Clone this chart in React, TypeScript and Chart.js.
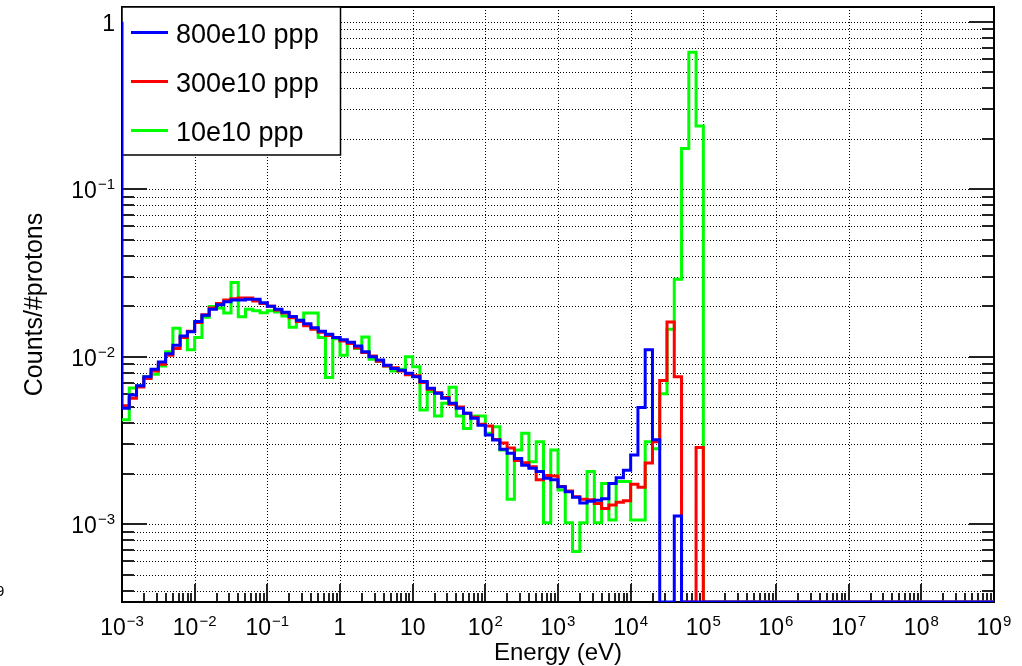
import React, { useEffect, useRef } from "react";
import { Chart, registerables } from "chart.js";

Chart.register(...registerables);

// ---- axis ranges / binning ----
const X_MIN = 1e-3;
const X_MAX = 1e9;
const Y_MIN = 3.43e-4;
const Y_MAX = 1.224;
const FIRST_EDGE_EXP = -3; // first bin edge = 10^-3
const BINS_PER_DECADE = 10;
const N_BINS = 120;

// ---- tick labels ----
const xTickValues = [1e-3, 1e-2, 1e-1, 1, 10, 1e2, 1e3, 1e4, 1e5, 1e6, 1e7, 1e8, 1e9];
const xTickBase = ["10", "10", "10", "1", "10", "10", "10", "10", "10", "10", "10", "10", "10"];
const xTickSup = ["\u22123", "\u22122", "\u22121", "", "", "2", "3", "4", "5", "6", "7", "8", "9"];
const yTickValues = [1e-3, 1e-2, 1e-1, 1];
const yTickBase = ["10", "10", "10", "1"];
const yTickSup = ["\u22123", "\u22122", "\u22121", ""];

const xTitle = "Energy (eV)";
const yTitle = "Counts/#protons";
const strayLabel = "9"; // clipped fragment at the left edge of the picture

// ---- series ----
const seriesLabels = ["800e10 ppp", "300e10 ppp", "10e10 ppp"];
const seriesColors = ["#0000ff", "#ff0000", "#00ff00"];

// bin contents, bins 0..79 (remaining bins up to 10^9 are empty)
const blueUnderflow = 1.0;
const blueValues = [
  4.92e-3, 5.9e-3, 6.7e-3, 7.6e-3, 8.4e-3, 9.3e-3, 1.04e-2, 1.17e-2, 1.33e-2, 1.41e-2,
  1.62e-2, 1.77e-2, 1.92e-2, 2.04e-2, 2.13e-2, 2.18e-2, 2.18e-2, 2.2e-2, 2.2e-2, 2.1e-2,
  2.0e-2, 1.92e-2, 1.84e-2, 1.74e-2, 1.65e-2, 1.57e-2, 1.49e-2, 1.42e-2, 1.36e-2, 1.3e-2,
  1.26e-2, 1.22e-2, 1.16e-2, 1.07e-2, 1.0e-2, 9.55e-3, 8.9e-3, 8.5e-3, 8.3e-3, 7.96e-3,
  7.6e-3, 7.1e-3, 6.47e-3, 6.04e-3, 5.64e-3, 5.27e-3, 4.92e-3, 4.59e-3, 4.29e-3, 3.9e-3,
  3.41e-3, 3.18e-3, 2.8e-3, 2.65e-3, 2.47e-3, 2.25e-3, 2.16e-3, 2.06e-3, 1.88e-3, 1.84e-3,
  1.67e-3, 1.56e-3, 1.45e-3, 1.34e-3, 1.37e-3, 1.39e-3, 1.42e-3, 1.75e-3, 1.89e-3, 2.1e-3,
  2.59e-3, 4.98e-3, 1.1e-2, 3.19e-3, 0, 0, 1.12e-3, 0, 0, 0,
];
const redValues = [
  5.1e-3, 5.65e-3, 6.6e-3, 7.4e-3, 8.2e-3, 9.0e-3, 1.02e-2, 1.12e-2, 1.3e-2, 1.42e-2,
  1.6e-2, 1.78e-2, 1.95e-2, 2.08e-2, 2.18e-2, 2.22e-2, 2.24e-2, 2.24e-2, 2.15e-2, 2.08e-2,
  2.0e-2, 1.9e-2, 1.82e-2, 1.71e-2, 1.62e-2, 1.53e-2, 1.46e-2, 1.4e-2, 1.34e-2, 1.3e-2,
  1.24e-2, 1.2e-2, 1.13e-2, 1.06e-2, 1.01e-2, 9.4e-3, 8.8e-3, 8.6e-3, 8.2e-3, 7.8e-3,
  7.7e-3, 7.0e-3, 6.4e-3, 6.1e-3, 5.7e-3, 5.2e-3, 5.0e-3, 4.6e-3, 4.35e-3, 3.95e-3,
  3.85e-3, 3.2e-3, 3.05e-3, 2.85e-3, 2.4e-3, 2.33e-3, 2.2e-3, 1.84e-3, 1.95e-3, 1.94e-3,
  1.68e-3, 1.58e-3, 1.46e-3, 1.41e-3, 1.4e-3, 1.33e-3, 1.24e-3, 1.3e-3, 1.35e-3, 1.38e-3,
  1.73e-3, 1.66e-3, 2.32e-3, 3.11e-3, 7.2e-3, 1.61e-2, 7.6e-3, 0, 0, 2.87e-3,
];
const greenValues = [
  4.2e-3, 6.5e-3, 6.7e-3, 7.6e-3, 7.85e-3, 8.8e-3, 1.07e-2, 1.48e-2, 1.3e-2, 1.1e-2,
  1.3e-2, 1.72e-2, 1.99e-2, 1.95e-2, 1.82e-2, 2.77e-2, 1.73e-2, 1.92e-2, 1.88e-2, 1.83e-2,
  1.88e-2, 1.85e-2, 1.75e-2, 1.5e-2, 1.65e-2, 1.82e-2, 1.82e-2, 1.3e-2, 7.5e-3, 1.28e-2,
  1.02e-2, 1.2e-2, 1.12e-2, 1.31e-2, 9.65e-3, 9.4e-3, 8.8e-3, 8.2e-3, 8.4e-3, 1.0e-2,
  8.7e-3, 4.8e-3, 6.2e-3, 4.43e-3, 5.27e-3, 6.56e-3, 4.43e-3, 3.73e-3, 4.43e-3, 4.43e-3,
  3.49e-3, 3.82e-3, 2.77e-3, 1.41e-3, 2.77e-3, 3.49e-3, 2.36e-3, 3.11e-3, 1.02e-3, 2.77e-3,
  1.6e-3, 1.02e-3, 6.86e-4, 1.02e-3, 2.06e-3, 1.02e-3, 1.75e-3, 1.06e-3, 1.8e-3, 1.8e-3,
  1.06e-3, 1.06e-3, 3.11e-3, 2.82e-3, 6.0e-3, 1.46e-2, 2.9e-2, 1.75e-1, 0.656, 0.238,
];

const FONT = "'Liberation Sans', Arial, Helvetica, sans-serif";

function binEdge(k: number) {
  return Math.pow(10, FIRST_EDGE_EXP + k / BINS_PER_DECADE);
}

function stepPoints(values: number[], leading?: number) {
  const pts: { x: number; y: number }[] = [];
  if (leading !== undefined) pts.push({ x: binEdge(0), y: leading });
  for (let k = 0; k < N_BINS; k++) {
    const v = values[k] ?? 0;
    const y = v > 0 ? v : Y_MIN;
    pts.push({ x: binEdge(k), y });
    pts.push({ x: binEdge(k + 1), y });
  }
  return pts;
}

function drawPow(
  ctx: CanvasRenderingContext2D,
  base: string,
  sup: string,
  x: number,
  baseline: number,
  align: "center" | "right",
  baseSize: number,
  supSize: number,
  supRaise: number
) {
  ctx.textAlign = "left";
  ctx.textBaseline = "alphabetic";
  ctx.font = `${baseSize}px ${FONT}`;
  const wb = ctx.measureText(base).width;
  ctx.font = `${supSize}px ${FONT}`;
  const ws = sup ? ctx.measureText(sup).width + 1 : 0;
  const total = wb + ws;
  const left = align === "center" ? x - total / 2 : x - total;
  ctx.font = `${baseSize}px ${FONT}`;
  ctx.fillText(base, left, baseline);
  if (sup) {
    ctx.font = `${supSize}px ${FONT}`;
    ctx.fillText(sup, left + wb + 1, baseline - supRaise);
  }
}

const rootPlugin = {
  id: "rootFrame",
  beforeDatasetsDraw(chart: any) {
    const ctx: CanvasRenderingContext2D = chart.ctx;
    const { left, right, top, bottom } = chart.chartArea;
    const xs = chart.scales.x;
    const ys = chart.scales.y;
    ctx.save();
    // grid
    ctx.strokeStyle = "#000";
    ctx.lineWidth = 1;
    ctx.setLineDash([1, 2]);
    for (let e = -4; e <= 0; e++) {
      for (let m = 1; m <= 9; m++) {
        const v = m * Math.pow(10, e);
        if (v <= Y_MIN || v >= Y_MAX) continue;
        const py = Math.round(ys.getPixelForValue(v)) + 0.5;
        ctx.beginPath();
        ctx.moveTo(left, py);
        ctx.lineTo(right, py);
        ctx.stroke();
      }
    }
    for (const v of xTickValues) {
      if (v <= X_MIN || v >= X_MAX) continue;
      const px = Math.round(xs.getPixelForValue(v)) + 0.5;
      ctx.beginPath();
      ctx.moveTo(px, top);
      ctx.lineTo(px, bottom);
      ctx.stroke();
    }
    ctx.setLineDash([]);
    // ticks (left/right on y, bottom on x)
    ctx.strokeStyle = "#222";
    ctx.lineWidth = 2;
    for (let e = -4; e <= 0; e++) {
      for (let m = 1; m <= 9; m++) {
        const v = m * Math.pow(10, e);
        if (v < Y_MIN || v > Y_MAX) continue;
        const py = Math.round(ys.getPixelForValue(v));
        const len = m === 1 ? 25 : 12;
        ctx.beginPath();
        ctx.moveTo(left, py);
        ctx.lineTo(left + len, py);
        ctx.moveTo(right, py);
        ctx.lineTo(right - len, py);
        ctx.stroke();
      }
    }
    for (let e = -3; e <= 8; e++) {
      for (let m = 1; m <= 9; m++) {
        const v = m * Math.pow(10, e);
        if (v < X_MIN || v > X_MAX) continue;
        const px = Math.round(xs.getPixelForValue(v));
        const len = m === 1 ? 18 : 9;
        ctx.beginPath();
        ctx.moveTo(px, bottom);
        ctx.lineTo(px, bottom - len);
        ctx.stroke();
      }
    }
    // frame
    ctx.strokeStyle = "#000";
    ctx.lineWidth = 2;
    ctx.strokeRect(left, top, right - left, bottom - top);

    // legend box
    const lx0 = left, ly0 = top, lx1 = 340.5, ly1 = 155;
    ctx.fillStyle = "#fff";
    ctx.fillRect(lx0, ly0, lx1 - lx0, ly1 - ly0);
    ctx.lineWidth = 1.5;
    ctx.strokeStyle = "#000";
    ctx.strokeRect(lx0, ly0, lx1 - lx0, ly1 - ly0);
    const rowY = [32.5, 81.5, 130.5];
    ctx.font = `27px ${FONT}`;
    ctx.textAlign = "left";
    ctx.textBaseline = "alphabetic";
    for (let i = 0; i < seriesLabels.length; i++) {
      ctx.strokeStyle = seriesColors[i];
      ctx.lineWidth = 3;
      ctx.beginPath();
      ctx.moveTo(131, rowY[i]);
      ctx.lineTo(168, rowY[i]);
      ctx.stroke();
      ctx.fillStyle = "#000";
      ctx.fillText(seriesLabels[i], 176, rowY[i] + 10);
    }
    ctx.restore();
  },
  afterDraw(chart: any) {
    const ctx: CanvasRenderingContext2D = chart.ctx;
    const xs = chart.scales.x;
    const ys = chart.scales.y;
    const { left, right, top, bottom } = chart.chartArea;
    ctx.save();
    ctx.fillStyle = "#000";
    for (let i = 0; i < xTickValues.length; i++) {
      const px = xs.getPixelForValue(xTickValues[i]);
      drawPow(ctx, xTickBase[i], xTickSup[i], px, 635, "center", 23, 15, 9);
    }
    for (let i = 0; i < yTickValues.length; i++) {
      const py = ys.getPixelForValue(yTickValues[i]);
      drawPow(ctx, yTickBase[i], yTickSup[i], 115, py + 9, "right", 23, 15, 9);
    }
    // clipped fragment at the far left
    ctx.font = `15px ${FONT}`;
    ctx.textAlign = "left";
    ctx.fillText(strayLabel, -4, 596);
    // axis titles
    ctx.font = `24px ${FONT}`;
    ctx.textAlign = "center";
    ctx.textBaseline = "alphabetic";
    ctx.fillText(xTitle, (left + right) / 2, 660);
    ctx.save();
    ctx.translate(42, (top + bottom) / 2);
    ctx.rotate(-Math.PI / 2);
    ctx.font = `25px ${FONT}`;
    ctx.fillText(yTitle, 0, 0);
    ctx.restore();
    ctx.restore();
  },
};

export default function App() {
  const canvasRef = useRef<HTMLCanvasElement | null>(null);

  useEffect(() => {
    const canvas = canvasRef.current;
    if (!canvas) return;
    const mk = (i: number, values: number[], leading?: number) => ({
      label: seriesLabels[i],
      data: stepPoints(values, leading),
      borderColor: seriesColors[i],
      backgroundColor: seriesColors[i],
      borderWidth: 3,
      pointRadius: 0,
      fill: false,
      tension: 0,
      borderJoinStyle: "miter" as const,
      borderCapStyle: "butt" as const,
    });
    const chart = new Chart(canvas, {
      type: "line",
      data: {
        datasets: [
          mk(0, blueValues, blueUnderflow),
          mk(1, redValues),
          mk(2, greenValues),
        ],
      },
      options: {
        animation: false,
        responsive: false,
        maintainAspectRatio: false,
        events: [],
        layout: { padding: { left: 122, top: 7, right: 28, bottom: 64 } },
        scales: {
          x: { type: "logarithmic", bounds: "data", min: X_MIN, max: X_MAX, display: false },
          y: { type: "logarithmic", bounds: "data", min: Y_MIN, max: Y_MAX, display: false },
        },
        plugins: { legend: { display: false }, tooltip: { enabled: false } },
      },
      plugins: [rootPlugin],
    });
    return () => chart.destroy();
  }, []);

  return (
    <div style={{ position: "absolute", left: 0, top: 0, width: 1022, height: 666, background: "#fff" }}>
      <canvas ref={canvasRef} width={1022} height={666} style={{ display: "block" }} />
    </div>
  );
}
